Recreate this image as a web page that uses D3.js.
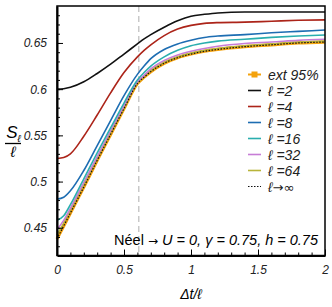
<!DOCTYPE html>
<html>
<head>
<meta charset="utf-8">
<script src="https://cdn.jsdelivr.net/npm/d3@7"></script>
<style>
  body { margin: 0; background: #fff; }
  svg { font-family: "Liberation Sans", Arial, sans-serif; }
</style>
</head>
<body>
<div id="draw"></div>
<script>
// grille commune en Δt/ℓ
var xs = [0, 0.05, 0.1, 0.2, 0.3, 0.4, 0.5, 0.6, 0.65, 0.7, 0.8, 0.9, 1.0, 1.1, 1.2, 1.4, 1.6, 1.8, 2.0];

var s2   = [0.600, 0.6005, 0.602, 0.608, 0.617, 0.627, 0.638, 0.649, 0.6545, 0.659, 0.667, 0.674, 0.679, 0.681, 0.6825, 0.6835, 0.6835, 0.6835, 0.6835];
var s4   = [0.525, 0.526, 0.530, 0.549, 0.572, 0.596, 0.618, 0.635, 0.642, 0.648, 0.658, 0.665, 0.669, 0.6712, 0.672, 0.6725, 0.6735, 0.6745, 0.675];
var s8   = [0.481, 0.483, 0.490, 0.512, 0.539, 0.566, 0.593, 0.616, 0.625, 0.633, 0.643, 0.649, 0.653, 0.656, 0.6575, 0.659, 0.661, 0.6625, 0.664];
var s16  = [0.458, 0.463, 0.475, 0.503, 0.531, 0.558, 0.585, 0.610, 0.618, 0.625, 0.635, 0.642, 0.647, 0.650, 0.652, 0.654, 0.656, 0.6575, 0.6586];
var s32  = [0.448, 0.458, 0.471, 0.499, 0.527, 0.555, 0.582, 0.608, 0.615, 0.622, 0.631, 0.637, 0.641, 0.644, 0.6465, 0.6495, 0.651, 0.6528, 0.654];
var s64  = [0.442, 0.455, 0.469, 0.497, 0.525, 0.553, 0.580, 0.607, 0.614, 0.620, 0.629, 0.635, 0.639, 0.642, 0.644, 0.647, 0.649, 0.651, 0.652];
var sInf = [0.438, 0.452, 0.466, 0.494, 0.523, 0.551, 0.579, 0.606, 0.613, 0.619, 0.628, 0.634, 0.638, 0.641, 0.643, 0.646, 0.648, 0.650, 0.651];

var xTicks = [0, 0.5, 1, 1.5, 2];
var xTickLabels = ["0", "0.5", "1", "1.5", "2"];
var yTicks = [0.45, 0.5, 0.55, 0.6, 0.65];
var yTickLabels = ["0.45", "0.5", "0.55", "0.6", "0.65"];
var legendLabels = ["ext 95%", "ℓ =2", "ℓ =4", "ℓ =8", "ℓ =16", "ℓ =32", "ℓ =64", "ℓ→∞"];
var kinkX = 0.61;

window.onload = function(){
    var W = 332, H = 307;
    var svg = d3.select('#draw').append('svg').attr('width', W).attr('height', H);

    var left = 57, right = 325, top = 6, bottom = 255.5;
    var x = d3.scaleLinear().domain([0, 2]).range([left, right]);
    var y = d3.scaleLinear().domain([0.42, 0.69]).range([bottom, top]);

    // ligne verticale en tirets
    svg.append('line')
        .attr('x1', x(kinkX)).attr('x2', x(kinkX))
        .attr('y1', top).attr('y2', bottom)
        .style('stroke', '#c8c8c8').style('stroke-width', 1.5).style('stroke-dasharray', '6,4');

    var line = d3.line().curve(d3.curveMonotoneX);
    function pts(arr){ return xs.map(function(v, i){ return [x(v), y(arr[i])]; }); }

    var series = [
        {vals: s64, color: '#b8b43a'},
        {vals: s32, color: '#c77dd6'},
        {vals: s16, color: '#2aaeae'},
        {vals: s8,  color: '#1d6db2'},
        {vals: s4,  color: '#ac2419'},
        {vals: s2,  color: '#111111'}
    ];

    var g = svg.append('g');
    // ext 95% : bande orange sous la courbe limite
    g.append('path').attr('d', line(pts(sInf)))
        .style('fill', 'none').style('stroke', '#f4a20c').style('stroke-width', 3.2);
    series.forEach(function(s){
        g.append('path').attr('d', line(pts(s.vals)))
            .style('fill', 'none').style('stroke', s.color).style('stroke-width', 1.6);
    });
    g.append('path').attr('d', line(pts(sInf)))
        .style('fill', 'none').style('stroke', '#111').style('stroke-width', 1.2).style('stroke-dasharray', '1.5,1.5');

    // cadre
    svg.append('rect').attr('x', left).attr('y', top).attr('width', right - left).attr('height', bottom - top)
        .style('fill', 'none').style('stroke', '#000').style('stroke-width', 1.5);

    // axes
    var xAxis = d3.axisBottom(x).tickValues(xTicks).tickFormat(function(d, i){ return xTickLabels[i]; })
        .tickSizeInner(-6).tickSizeOuter(0).tickPadding(9);
    var gx = svg.append('g').attr('transform', 'translate(0,' + bottom + ')').call(xAxis);
    var xMinor = d3.axisBottom(x).tickValues(d3.range(1, 20).map(function(i){ return i / 10; }))
        .tickFormat('').tickSizeInner(-3).tickSizeOuter(0);
    svg.append('g').attr('transform', 'translate(0,' + bottom + ')').call(xMinor).select('.domain').remove();

    var yAxis = d3.axisLeft(y).tickValues(yTicks).tickFormat(function(d, i){ return yTickLabels[i]; })
        .tickSizeInner(-6).tickSizeOuter(0).tickPadding(10);
    var gy = svg.append('g').attr('transform', 'translate(' + left + ',0)').call(yAxis);
    var yMinor = d3.axisLeft(y).tickValues(d3.range(43, 69).map(function(i){ return i / 100; }))
        .tickFormat('').tickSizeInner(-3).tickSizeOuter(0);
    svg.append('g').attr('transform', 'translate(' + left + ',0)').call(yMinor).select('.domain').remove();

    svg.selectAll('.domain').style('stroke', '#000').style('stroke-width', 2);
    svg.selectAll('.tick line').style('stroke', '#000').style('stroke-width', 1);
    svg.selectAll('.tick text').style('font-family', '"Liberation Sans", Arial, sans-serif')
        .style('font-size', '12px').style('font-style', 'italic').style('fill', '#222');
    gx.selectAll('.tick text').attr('dy', '0.8em');

    // titres des axes
    svg.append('text').attr('x', x(1)).attr('y', 299).attr('text-anchor', 'middle')
        .style('font-size', '14px').style('font-style', 'italic').text('Δt/ℓ');
    svg.append('text').attr('x', 12).attr('y', 138).attr('text-anchor', 'middle')
        .style('font-size', '17px').style('font-style', 'italic').text('S');
    svg.append('text').attr('x', 19).attr('y', 142).attr('text-anchor', 'middle')
        .style('font-size', '10px').style('font-style', 'italic').text('ℓ');
    svg.append('line').attr('x1', 5).attr('x2', 21).attr('y1', 143.5).attr('y2', 143.5)
        .style('stroke', '#000').style('stroke-width', 1.3);
    svg.append('text').attr('x', 13).attr('y', 157).attr('text-anchor', 'middle')
        .style('font-size', '15px').style('font-style', 'italic').text('ℓ');

    // annotation
    var ann = svg.append('text').attr('x', 318).attr('y', 245).attr('text-anchor', 'end')
        .style('font-size', '14.5px');
    ann.append('tspan').text('Néel ');
    ann.append('tspan').style('font-family', '"DejaVu Sans", sans-serif').style('font-size', '12px').text('→');
    ann.append('tspan').style('font-style', 'italic').text(' U = 0, γ = 0.75, h = 0.75');

    // légende
    var legColors = ['#f4a20c', '#111111', '#ac2419', '#1d6db2', '#2aaeae', '#c77dd6', '#b8b43a', '#111'];
    var lg = svg.append('g');
    legendLabels.forEach(function(lab, i){
        var ly = 74.5 + i * 16;
        var l = lg.append('line').attr('x1', 248).attr('x2', 261).attr('y1', ly).attr('y2', ly)
            .style('stroke', legColors[i]).style('stroke-width', i === 0 ? 2 : 1.6);
        if (i === 7) l.style('stroke-width', 1.2).style('stroke-dasharray', '1.5,1.5');
        if (i === 0) lg.append('rect').attr('x', 251.5).attr('y', ly - 3).attr('width', 6).attr('height', 6)
            .style('fill', legColors[0]);
        var t = lg.append('text').attr('x', 268).attr('y', ly + 5).style('font-size', '14px')
            .style('font-style', 'italic').style('fill', '#222');
        if (i === 7) {
            t.append('tspan').text('ℓ');
            t.append('tspan').style('font-family', '"DejaVu Sans", sans-serif').style('font-style', 'normal')
                .style('font-size', '13px').text('→∞');
        } else {
            t.text(lab);
        }
    });
};
</script>
</body>
</html>
